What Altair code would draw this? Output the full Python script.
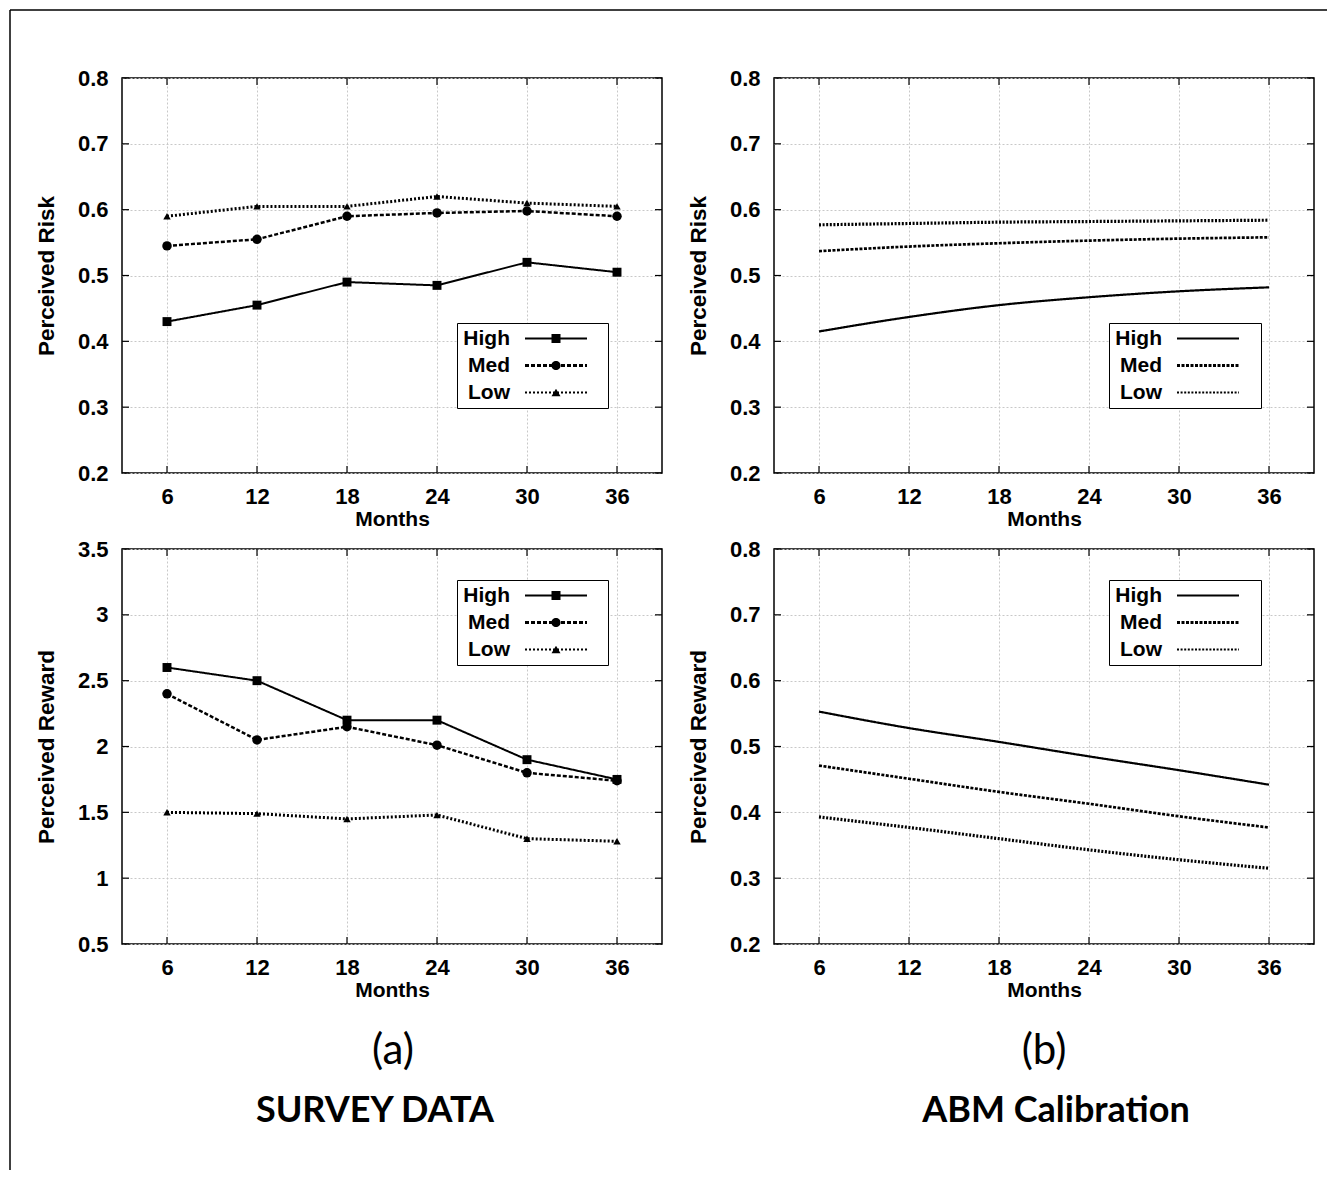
import altair as alt
import pandas as pd

MONTHS = [6, 12, 18, 24, 30, 36]
SERIES = ["High", "Med", "Low"]

# (a) SURVEY DATA
survey_risk_high = [0.43, 0.455, 0.49, 0.485, 0.52, 0.505]
survey_risk_med = [0.545, 0.555, 0.59, 0.595, 0.598, 0.59]
survey_risk_low = [0.59, 0.605, 0.605, 0.62, 0.61, 0.605]

survey_reward_high = [2.6, 2.5, 2.2, 2.2, 1.9, 1.75]
survey_reward_med = [2.4, 2.05, 2.15, 2.01, 1.8, 1.74]
survey_reward_low = [1.5, 1.49, 1.45, 1.48, 1.3, 1.28]

# (b) ABM Calibration
abm_risk_high = [0.415, 0.437, 0.455, 0.467, 0.476, 0.482]
abm_risk_med = [0.537, 0.544, 0.549, 0.553, 0.556, 0.558]
abm_risk_low = [0.577, 0.579, 0.581, 0.582, 0.583, 0.584]

abm_reward_high = [0.553, 0.528, 0.507, 0.485, 0.464, 0.442]
abm_reward_med = [0.471, 0.451, 0.431, 0.413, 0.394, 0.377]
abm_reward_low = [0.393, 0.377, 0.360, 0.343, 0.328, 0.315]

RISK_TICKS = [0.2, 0.3, 0.4, 0.5, 0.6, 0.7, 0.8]
SURVEY_REWARD_TICKS = [0.5, 1.0, 1.5, 2.0, 2.5, 3.0, 3.5]
ABM_REWARD_TICKS = [0.2, 0.3, 0.4, 0.5, 0.6, 0.7, 0.8]

CAPTION_LETTERS = ["(a)", "(b)"]
CAPTION_TITLES = ["SURVEY DATA", "ABM Calibration"]

FONT = "Liberation Sans"
CAP_FONT = "Lato"
W, H = 540, 395

MARKER_SHAPES = ["square", "circle", "triangle-up"]
MARKER_SIZES = [80, 90, 55]

# ---- legend sample glyphs (filled paths; symbolSize 100 -> 5 px per path unit) ----
K = 5.0


def _f(v):
    return ("%.2f" % (v / K)).rstrip("0").rstrip(".")


def seg_path(on, off, thick, half=31):
    parts = []
    x = -half
    while x < half:
        x1 = min(x + on, half)
        parts.append("M%s,%sH%sV%sH%sZ" % (_f(x), _f(-thick / 2), _f(x1), _f(thick / 2), _f(x)))
        x += on + off
    return "".join(parts)


def square(s):
    return "M%s,%sH%sV%sH%sZ" % (_f(-s), _f(-s), _f(s), _f(s), _f(-s))


def circle(r):
    # clockwise (same winding as the dash rectangles) so the fill does not cancel
    return "M%s,0A%s,%s 0 1,1 %s,0A%s,%s 0 1,1 %s,0Z" % (_f(-r), _f(r), _f(r), _f(r), _f(r), _f(r), _f(-r))


def triangle(w, h):
    return "M%s,%sL0,%sL%s,%sZ" % (_f(-w / 2), _f(h / 2), _f(-h / 2), _f(w / 2), _f(h / 2))


PAD_RIGHT = "M%s,0" % _f(41)
SURVEY_GLYPHS = [
    seg_path(100, 0, 2) + square(4.5) + PAD_RIGHT,
    seg_path(4, 2, 3) + circle(4.6) + PAD_RIGHT,
    seg_path(2, 2, 2) + triangle(9, 7.5) + PAD_RIGHT,
]
ABM_GLYPHS = [
    seg_path(100, 0, 2.2) + PAD_RIGHT,
    seg_path(3, 1.5, 3) + PAD_RIGHT,
    seg_path(2, 1.6, 2.2) + PAD_RIGHT,
]


def glyph_expr(glyphs):
    return {"expr": "datum.value === 'High' ? '%s' : datum.value === 'Med' ? '%s' : '%s'" % tuple(glyphs)}


def long_df(high, med, low):
    rows = []
    for name, vals in zip(SERIES, [high, med, low]):
        for m, v in zip(MONTHS, vals):
            rows.append({"month": m, "value": v, "series": name})
    return pd.DataFrame(rows)


def panel(df, ydom, yticks, yfmt, ytitle, survey, legx, legy, extras=()):
    xenc = alt.X("month:Q",
                 scale=alt.Scale(domain=[3, 39], nice=False, zero=False),
                 axis=alt.Axis(values=MONTHS, title="Months", grid=True))
    yenc = alt.Y("value:Q",
                 scale=alt.Scale(domain=ydom, nice=False, zero=False),
                 axis=alt.Axis(values=yticks, format=yfmt, title=ytitle, grid=True))
    if survey:
        glyphs = SURVEY_GLYPHS
        dashes = [[1, 0], [4, 2], [2, 2]]
        widths = [2, 3, 2]
    else:
        glyphs = ABM_GLYPHS
        dashes = [[1, 0], [3, 1.5], [2, 1.6]]
        widths = [2.2, 3.2, 2.4]
    legend = alt.Legend(
        orient="none", legendX=legx, legendY=legy, title=None, direction="vertical",
        strokeColor="black", fillColor="white", padding=5, cornerRadius=0,
        labelFont=FONT, labelFontSize=21, labelFontWeight="bold", labelColor="black",
        labelAlign="right", labelOffset={"expr": "-56.5"}, symbolOffset=83.5, symbolSize=100,
        symbolStrokeColor="transparent", symbolStrokeWidth=0, symbolFillColor="black",
        symbolType=glyph_expr(glyphs), rowPadding=5,
    )
    base = alt.Chart(df)
    line = base.mark_line(color="black", interpolate="linear" if survey else "monotone").encode(
        x=xenc, y=yenc,
        strokeDash=alt.StrokeDash("series:N", scale=alt.Scale(domain=SERIES, range=dashes), legend=legend),
        strokeWidth=alt.StrokeWidth("series:N", scale=alt.Scale(domain=SERIES, range=widths), legend=None),
    )
    layers = [line]
    if survey:
        for name, shp, sz in zip(SERIES, MARKER_SHAPES, MARKER_SIZES):
            layers.append(
                base.transform_filter(alt.datum.series == name)
                .mark_point(filled=True, color="black", opacity=1, shape=shp, size=sz)
                .encode(x=xenc, y=yenc)
            )
    # gnuplot-style inward ticks on all four sides
    xt = alt.Chart(pd.DataFrame({"month": MONTHS}))
    yt = alt.Chart(pd.DataFrame({"value": yticks}))
    layers += [
        xt.mark_rule(color="black", strokeWidth=1.2).encode(x=xenc, y=alt.value(H), y2=alt.value(H - 7)),
        xt.mark_rule(color="black", strokeWidth=1.2).encode(x=xenc, y=alt.value(0), y2=alt.value(7)),
        yt.mark_rule(color="black", strokeWidth=1.2).encode(y=yenc, x=alt.value(0), x2=alt.value(7)),
        yt.mark_rule(color="black", strokeWidth=1.2).encode(y=yenc, x=alt.value(W), x2=alt.value(W - 7)),
    ]
    layers += list(extras)
    return alt.layer(*layers).properties(width=W, height=H)


one = alt.Chart(pd.DataFrame({"k": [0]}))
frame = [
    one.mark_rule(color="black", strokeWidth=1.5).encode(x=alt.value(-112), x2=alt.value(1205), y=alt.value(-68)),
    one.mark_rule(color="black", strokeWidth=1.5).encode(x=alt.value(-112), y=alt.value(-68), y2=alt.value(1092)),
]

CAP_LETTER_X = [271, 270]
CAP_TITLE_X = [253, 282]


def captions(i):
    d = alt.Chart(pd.DataFrame({"letter": [CAPTION_LETTERS[i]], "title": [CAPTION_TITLES[i]]}))
    return [
        d.mark_text(font=CAP_FONT, fontSize=42, color="black", align="center", baseline="middle").encode(
            text="letter:N", x=alt.value(CAP_LETTER_X[i]), y=alt.value(502)),
        d.mark_text(font=CAP_FONT, fontSize=36, fontWeight="bold", color="black", align="center", baseline="middle").encode(
            text="title:N", x=alt.value(CAP_TITLE_X[i]), y=alt.value(562)),
    ]


tl = panel(long_df(survey_risk_high, survey_risk_med, survey_risk_low), [0.2, 0.8], RISK_TICKS, ".1f",
           "Perceived Risk", True, 335, 245, frame)
tr = panel(long_df(abm_risk_high, abm_risk_med, abm_risk_low), [0.2, 0.8], RISK_TICKS, ".1f",
           "Perceived Risk", False, 335, 245)
bl = panel(long_df(survey_reward_high, survey_reward_med, survey_reward_low), [0.5, 3.5], SURVEY_REWARD_TICKS, "~g",
           "Perceived Reward", True, 335, 31, captions(0))
br = panel(long_df(abm_reward_high, abm_reward_med, abm_reward_low), [0.2, 0.8], ABM_REWARD_TICKS, ".1f",
           "Perceived Reward", False, 335, 31, captions(1))

chart = alt.concat(tl, tr, bl, br, columns=2, spacing={"row": 76, "column": 112}, bounds="flush").resolve_scale(
    strokeDash="independent", strokeWidth="independent", x="independent", y="independent"
).resolve_legend(strokeDash="independent").properties(padding=0).configure_view(
    stroke="black", strokeWidth=1.5
).configure_axis(
    domain=False, ticks=False, gridColor="#c8c8c8", gridDash=[2, 2], gridWidth=1,
    labelFont=FONT, labelFontSize=22, labelFontWeight="bold", labelColor="black",
    titleFont=FONT, titleFontSize=21, titleFontWeight="bold", titleColor="black",
).configure_axisX(labelPadding=13, titlePadding=1).configure_axisY(
    labelPadding=14, titlePadding=19, titleFontSize=22.5)

chart.save("out.html", embed_options={"renderer": "svg", "actions": False})
